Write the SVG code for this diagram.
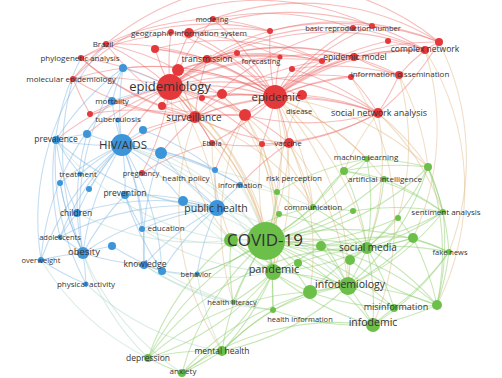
<svg xmlns="http://www.w3.org/2000/svg" width="502" height="378" viewBox="0 0 502 378">
<style>
.e path{fill:none;stroke-width:1.1}
.r path{stroke:#ee6a6a;stroke-opacity:.45}
.g path{stroke:#8ccd6a;stroke-opacity:.48}
.b path{stroke:#7db4e0;stroke-opacity:.45}
.o path{stroke:#d6a35e;stroke-opacity:.35}
.t path{stroke:#9ccab8;stroke-opacity:.35}
.R{fill:#e5383b}
.G{fill:#6cc04a}
.B{fill:#3b95d8}
text{font-family:"Open Sans","Liberation Sans",sans-serif;fill:#333;text-anchor:middle}
</style>
<rect width="502" height="378" fill="#fff"/>
<g id="connectors" class="e">
<g class="r">
<path d="M170 87A260 260 0 0 1 213 19"/><path d="M170 87A260 260 0 0 1 171 32"/><path d="M170 87A260 260 0 0 1 189 33"/><path d="M170 87A260 260 0 0 0 106 44"/><path d="M170 87A260 260 0 0 0 81 58"/><path d="M170 87A260 260 0 0 1 207 59"/><path d="M170 87A260 260 0 0 0 73 79"/><path d="M170 87A260 260 0 0 1 178 70"/><path d="M170 87A260 260 0 0 1 222 94"/><path d="M170 87A260 260 0 0 1 202 98"/><path d="M170 87A260 260 0 0 1 162 106"/><path d="M170 87A260 260 0 0 0 90 114"/><path d="M170 87A260 260 0 0 1 195 117"/><path d="M170 87A260 260 0 0 1 245 115"/><path d="M170 87A260 260 0 0 1 275 97"/><path d="M170 87A260 260 0 0 1 212 143"/><path d="M170 87A260 260 0 0 1 289 143"/><path d="M170 87A260 260 0 0 1 155 49"/><path d="M170 87A260 260 0 0 1 353 28"/><path d="M170 87A260 260 0 0 1 322 61"/><path d="M170 87A260 260 0 0 1 280 57"/><path d="M170 87A260 260 0 0 1 237 53"/><path d="M170 87A260 260 0 0 1 425 50"/><path d="M170 87A260 260 0 0 1 378 113"/><path d="M170 87A260 260 0 0 0 122 145"/><path d="M170 87A260 260 0 0 1 142 173"/><path d="M170 87A260 260 0 0 1 270 31"/><path d="M170 87A260 260 0 0 1 302 95"/><path d="M170 87A260 260 0 0 1 262 144"/>
<path d="M275 97A260 260 0 0 0 213 19"/><path d="M275 97A260 260 0 0 0 189 33"/><path d="M275 97A260 260 0 0 0 207 59"/><path d="M275 97A260 260 0 0 1 270 31"/><path d="M275 97A260 260 0 0 1 280 57"/><path d="M275 97A260 260 0 0 1 292 69"/><path d="M275 97A260 260 0 0 1 322 61"/><path d="M275 97A260 260 0 0 1 354 57"/><path d="M275 97A260 260 0 0 1 351 77"/><path d="M275 97A260 260 0 0 1 399 75"/><path d="M275 97A260 260 0 0 1 425 50"/><path d="M275 97A260 260 0 0 1 439 42"/><path d="M275 97A260 260 0 0 1 378 113"/><path d="M275 97A260 260 0 0 1 302 95"/><path d="M275 97A260 260 0 0 1 245 115"/><path d="M275 97A260 260 0 0 0 195 117"/><path d="M275 97A260 260 0 0 0 222 94"/><path d="M275 97A260 260 0 0 1 289 143"/><path d="M275 97A260 260 0 0 1 262 144"/><path d="M275 97A260 260 0 0 1 212 143"/><path d="M275 97A260 260 0 0 1 372 26"/><path d="M275 97A260 260 0 0 1 353 28"/><path d="M275 97A260 260 0 0 1 388 41"/><path d="M275 97A260 260 0 0 0 178 70"/><path d="M275 97A260 260 0 0 0 162 106"/><path d="M275 97A260 260 0 0 0 106 44"/><path d="M275 97A260 260 0 0 0 73 79"/><path d="M275 97A260 260 0 0 0 155 49"/><path d="M275 97A260 260 0 0 0 237 53"/><path d="M275 97A260 260 0 0 0 202 98"/><path d="M275 97A260 260 0 0 0 171 32"/>
<path d="M195 117A260 260 0 0 1 178 70"/><path d="M195 117A260 260 0 0 1 207 59"/><path d="M195 117A260 260 0 0 1 245 115"/><path d="M195 117A260 260 0 0 1 212 143"/><path d="M195 117A260 260 0 0 0 289 143"/><path d="M195 117A260 260 0 0 1 106 44"/><path d="M195 117A260 260 0 0 1 73 79"/><path d="M195 117A260 260 0 0 1 81 58"/><path d="M195 117A260 260 0 0 0 122 145"/><path d="M195 117A260 260 0 0 1 353 28"/><path d="M195 117A260 260 0 0 1 322 61"/><path d="M195 117A260 260 0 0 1 378 113"/><path d="M195 117A260 260 0 0 0 90 114"/>
<path d="M354 57A260 260 0 0 1 425 50"/><path d="M354 57A260 260 0 0 0 399 75"/><path d="M399 75A260 260 0 0 1 425 50"/><path d="M425 50A260 260 0 0 1 439 42"/><path d="M372 26A260 260 0 0 1 439 42"/><path d="M353 28A260 260 0 0 1 425 50"/><path d="M351 77A260 260 0 0 1 378 113"/><path d="M399 75A260 260 0 0 1 378 113"/><path d="M270 31A260 260 0 0 1 372 26"/><path d="M189 33A260 260 0 0 1 270 31"/><path d="M213 19A260 260 0 0 1 353 28"/><path d="M322 61A260 260 0 0 1 354 57"/><path d="M439 42A260 260 0 0 1 378 113"/><path d="M292 69A260 260 0 0 1 378 113"/><path d="M106 44A260 260 0 0 1 213 19"/><path d="M81 58A260 260 0 0 1 189 33"/><path d="M73 79A260 260 0 0 1 106 44"/><path d="M106 44A260 260 0 0 1 439 42"/><path d="M73 79A260 260 0 0 1 372 26"/><path d="M155 49A260 260 0 0 1 322 61"/><path d="M245 115A260 260 0 0 1 425 50"/><path d="M207 59A260 260 0 0 1 399 75"/><path d="M178 70A260 260 0 0 1 280 57"/><path d="M222 94A260 260 0 0 1 351 77"/>
<path d="M207 59A260 260 0 0 1 280 57"/><path d="M207 59A260 260 0 0 1 322 61"/><path d="M189 33A260 260 0 0 1 322 61"/><path d="M213 19A260 260 0 0 1 270 31"/><path d="M155 49A260 260 0 0 1 207 59"/><path d="M106 44A260 260 0 0 1 178 70"/><path d="M81 58A260 260 0 0 0 162 106"/><path d="M73 79A260 260 0 0 0 90 114"/><path d="M162 106A260 260 0 0 0 245 115"/><path d="M178 70A260 260 0 0 1 245 115"/><path d="M280 57A260 260 0 0 1 354 57"/><path d="M292 69A260 260 0 0 1 399 75"/><path d="M302 95A260 260 0 0 1 378 113"/><path d="M245 115A260 260 0 0 0 378 113"/><path d="M289 143A260 260 0 0 0 378 113"/><path d="M388 41A260 260 0 0 1 425 50"/><path d="M270 31A260 260 0 0 1 439 42"/><path d="M189 33A260 260 0 0 1 425 50"/><path d="M213 19A260 260 0 0 1 439 42"/><path d="M81 58A260 260 0 0 1 270 31"/><path d="M178 70A260 260 0 0 1 322 61"/><path d="M207 59A260 260 0 0 1 354 57"/><path d="M171 32A260 260 0 0 1 280 57"/><path d="M212 143A260 260 0 0 0 289 143"/><path d="M262 144A260 260 0 0 0 378 113"/>
<path d="M112 101A260 260 0 0 0 195 117"/><path d="M123 68A260 260 0 0 1 275 97"/><path d="M87 134A260 260 0 0 1 170 87"/><path d="M56 140A260 260 0 0 1 170 87"/><path d="M143 130A260 260 0 0 1 195 117"/><path d="M118 120A260 260 0 0 1 170 87"/><path d="M161 153A260 260 0 0 1 195 117"/><path d="M142 173A260 260 0 0 1 212 143"/><path d="M215 170A260 260 0 0 1 245 115"/><path d="M240 185A260 260 0 0 1 289 143"/>
</g>
<g class="o">
<path d="M275 97A260 260 0 0 1 266 241"/><path d="M170 87A260 260 0 0 1 266 241"/><path d="M195 117A260 260 0 0 1 266 241"/><path d="M289 143A260 260 0 0 1 266 241"/><path d="M262 144A260 260 0 0 1 273 272"/><path d="M212 143A260 260 0 0 1 266 241"/><path d="M245 115A260 260 0 0 1 277 192"/><path d="M275 97A260 260 0 0 1 313 207"/><path d="M170 87A260 260 0 0 1 217 208"/><path d="M289 143A260 260 0 0 1 348 286"/><path d="M275 97A260 260 0 0 1 367 248"/><path d="M275 97A260 260 0 0 1 348 286"/><path d="M378 113A260 260 0 0 1 367 248"/><path d="M378 113A260 260 0 0 1 443 212"/><path d="M399 75A260 260 0 0 1 398 218"/><path d="M425 50A260 260 0 0 1 437 305"/><path d="M439 42A260 260 0 0 1 449 252"/><path d="M245 115A260 260 0 0 1 273 272"/><path d="M302 95A260 260 0 0 1 344 171"/><path d="M222 94A260 260 0 0 1 279 214"/><path d="M195 117A260 260 0 0 1 273 272"/><path d="M351 77A260 260 0 0 1 373 325"/><path d="M399 75A260 260 0 0 1 428 167"/><path d="M289 143A260 260 0 0 1 310 292"/>
<path d="M275 97A260 260 0 0 1 428 167"/><path d="M275 97A260 260 0 0 1 384 179"/><path d="M275 97A260 260 0 0 1 367 159"/><path d="M378 113A260 260 0 0 1 428 167"/><path d="M378 113A260 260 0 0 0 344 171"/><path d="M245 115A260 260 0 0 1 313 207"/><path d="M289 143A260 260 0 0 1 313 207"/><path d="M262 144A260 260 0 0 0 266 241"/><path d="M212 143A260 260 0 0 0 231 240"/><path d="M170 87A260 260 0 0 0 231 240"/><path d="M195 117A260 260 0 0 1 313 207"/><path d="M302 95A260 260 0 0 0 277 192"/><path d="M170 87A260 260 0 0 1 273 272"/><path d="M275 97A260 260 0 0 1 273 272"/><path d="M425 50A260 260 0 0 1 413 238"/><path d="M195 117A260 260 0 0 0 222 351"/><path d="M245 115A260 260 0 0 0 233 302"/>
</g>
<g class="b">
<path d="M122 145A260 260 0 0 1 56 140"/><path d="M122 145A260 260 0 0 1 87 134"/><path d="M122 145A260 260 0 0 1 143 130"/><path d="M122 145A260 260 0 0 1 161 153"/><path d="M122 145A260 260 0 0 1 112 101"/><path d="M122 145A260 260 0 0 1 123 68"/><path d="M122 145A260 260 0 0 1 118 120"/><path d="M122 145A260 260 0 0 0 80 174"/><path d="M122 145A260 260 0 0 0 60 183"/><path d="M122 145A260 260 0 0 0 89 189"/><path d="M122 145A260 260 0 0 1 125 195"/><path d="M122 145A260 260 0 0 0 77 213"/><path d="M122 145A260 260 0 0 1 142 229"/><path d="M122 145A260 260 0 0 1 183 201"/><path d="M122 145A260 260 0 0 1 217 208"/><path d="M122 145A260 260 0 0 1 144 265"/><path d="M122 145A260 260 0 0 1 162 271"/><path d="M122 145A260 260 0 0 0 83 253"/><path d="M122 145A260 260 0 0 0 60 237"/><path d="M122 145A260 260 0 0 1 215 170"/><path d="M122 145A260 260 0 0 1 240 185"/><path d="M122 145A260 260 0 0 0 41 260"/><path d="M112 101A260 260 0 0 1 170 87"/><path d="M123 68A260 260 0 0 1 170 87"/>
<path d="M217 208A260 260 0 0 1 183 201"/><path d="M217 208A260 260 0 0 0 142 229"/><path d="M217 208A260 260 0 0 0 144 265"/><path d="M217 208A260 260 0 0 0 162 271"/><path d="M217 208A260 260 0 0 0 197 274"/><path d="M217 208A260 260 0 0 1 240 185"/><path d="M217 208A260 260 0 0 1 215 170"/><path d="M217 208A260 260 0 0 0 125 195"/><path d="M217 208A260 260 0 0 1 161 153"/><path d="M217 208A260 260 0 0 0 83 253"/><path d="M217 208A260 260 0 0 0 77 213"/><path d="M217 208A260 260 0 0 1 56 140"/><path d="M217 208A260 260 0 0 0 60 237"/>
<path d="M83 253A260 260 0 0 0 41 260"/><path d="M83 253A260 260 0 0 1 86 284"/><path d="M83 253A260 260 0 0 1 77 213"/><path d="M83 253A260 260 0 0 0 60 237"/><path d="M83 253A260 260 0 0 1 112 246"/><path d="M83 253A260 260 0 0 0 144 265"/><path d="M83 253A260 260 0 0 1 125 195"/><path d="M83 253A260 260 0 0 1 60 183"/><path d="M56 140A260 260 0 0 0 77 213"/><path d="M56 140A260 260 0 0 0 80 174"/><path d="M77 213A260 260 0 0 0 60 237"/><path d="M112 101A260 260 0 0 1 123 68"/><path d="M123 68A260 260 0 0 0 56 140"/><path d="M87 134A260 260 0 0 0 56 140"/><path d="M144 265A260 260 0 0 0 162 271"/><path d="M162 271A260 260 0 0 0 197 274"/><path d="M41 260A260 260 0 0 0 86 284"/><path d="M123 68A260 260 0 0 0 83 253"/><path d="M112 101A260 260 0 0 0 41 260"/><path d="M56 140A260 260 0 0 0 86 284"/><path d="M125 195A260 260 0 0 0 142 229"/><path d="M143 130A260 260 0 0 1 215 170"/><path d="M161 153A260 260 0 0 1 240 185"/>
<path d="M106 44A260 260 0 0 0 41 260"/><path d="M81 58A260 260 0 0 0 60 237"/><path d="M73 79A260 260 0 0 0 83 253"/><path d="M87 134A260 260 0 0 0 77 213"/><path d="M161 153A260 260 0 0 0 144 265"/><path d="M125 195A260 260 0 0 0 162 271"/><path d="M60 183A260 260 0 0 0 83 253"/><path d="M112 246A260 260 0 0 0 162 271"/>
</g>
<g class="t">
<path d="M122 145A260 260 0 0 1 266 241"/><path d="M217 208A260 260 0 0 1 266 241"/><path d="M240 185A260 260 0 0 1 266 241"/><path d="M197 274A260 260 0 0 0 266 241"/><path d="M162 271A260 260 0 0 0 273 272"/><path d="M83 253A260 260 0 0 0 148 358"/><path d="M142 229A260 260 0 0 0 266 241"/><path d="M122 145A260 260 0 0 1 273 272"/><path d="M217 208A260 260 0 0 1 348 286"/><path d="M183 201A260 260 0 0 1 231 240"/><path d="M144 265A260 260 0 0 0 233 302"/><path d="M56 140A260 260 0 0 0 231 240"/>
<path d="M86 284A260 260 0 0 0 222 351"/><path d="M83 253A260 260 0 0 0 182 373"/><path d="M41 260A260 260 0 0 0 148 358"/><path d="M162 271A260 260 0 0 0 233 302"/><path d="M197 274A260 260 0 0 0 222 351"/><path d="M142 229A260 260 0 0 0 273 272"/><path d="M125 195A260 260 0 0 1 266 241"/><path d="M77 213A260 260 0 0 0 231 240"/><path d="M161 153A260 260 0 0 1 266 241"/><path d="M183 201A260 260 0 0 0 273 272"/><path d="M240 185A260 260 0 0 1 313 207"/><path d="M215 170A260 260 0 0 1 277 192"/><path d="M144 265A260 260 0 0 0 273 310"/>
</g>
<g class="g">
<path d="M266 241A260 260 0 0 0 231 240"/><path d="M266 241A260 260 0 0 1 273 272"/><path d="M266 241A260 260 0 0 1 310 292"/><path d="M266 241A260 260 0 0 1 348 286"/><path d="M266 241A260 260 0 0 1 321 246"/><path d="M266 241A260 260 0 0 1 367 248"/><path d="M266 241A260 260 0 0 1 350 260"/><path d="M266 241A260 260 0 0 1 298 263"/><path d="M266 241A260 260 0 0 0 313 207"/><path d="M266 241A260 260 0 0 0 279 214"/><path d="M266 241A260 260 0 0 0 277 192"/><path d="M266 241A260 260 0 0 0 353 211"/><path d="M266 241A260 260 0 0 0 344 171"/><path d="M266 241A260 260 0 0 0 367 159"/><path d="M266 241A260 260 0 0 0 384 179"/><path d="M266 241A260 260 0 0 0 398 218"/><path d="M266 241A260 260 0 0 0 413 238"/><path d="M266 241A260 260 0 0 0 443 212"/><path d="M266 241A260 260 0 0 1 449 252"/><path d="M266 241A260 260 0 0 1 437 305"/><path d="M266 241A260 260 0 0 1 394 308"/><path d="M266 241A260 260 0 0 1 373 325"/><path d="M266 241A260 260 0 0 1 273 310"/><path d="M266 241A260 260 0 0 0 233 302"/><path d="M266 241A260 260 0 0 0 222 351"/><path d="M266 241A260 260 0 0 0 148 358"/><path d="M266 241A260 260 0 0 0 182 373"/><path d="M266 241A260 260 0 0 0 428 167"/><path d="M266 241A260 260 0 0 1 197 274"/>
<path d="M367 248A260 260 0 0 0 413 238"/><path d="M367 248A260 260 0 0 1 449 252"/><path d="M367 248A260 260 0 0 0 443 212"/><path d="M367 248A260 260 0 0 0 398 218"/><path d="M367 248A260 260 0 0 1 348 286"/><path d="M367 248A260 260 0 0 1 437 305"/><path d="M367 248A260 260 0 0 1 394 308"/><path d="M367 248A260 260 0 0 1 373 325"/><path d="M367 248A260 260 0 0 0 344 171"/><path d="M367 248A260 260 0 0 0 367 159"/><path d="M367 248A260 260 0 0 0 384 179"/><path d="M367 248A260 260 0 0 1 350 260"/><path d="M367 248A260 260 0 0 0 321 246"/><path d="M367 248A260 260 0 0 1 273 272"/><path d="M367 248A260 260 0 0 0 428 167"/>
<path d="M348 286A260 260 0 0 1 373 325"/><path d="M348 286A260 260 0 0 1 394 308"/><path d="M348 286A260 260 0 0 1 437 305"/><path d="M348 286A260 260 0 0 0 310 292"/><path d="M348 286A260 260 0 0 0 273 272"/><path d="M348 286A260 260 0 0 0 273 310"/><path d="M348 286A260 260 0 0 0 413 238"/><path d="M348 286A260 260 0 0 0 350 260"/><path d="M348 286A260 260 0 0 0 443 212"/><path d="M348 286A260 260 0 0 1 222 351"/>
<path d="M273 272A260 260 0 0 1 222 351"/><path d="M273 272A260 260 0 0 1 148 358"/><path d="M273 272A260 260 0 0 1 182 373"/><path d="M273 272A260 260 0 0 1 233 302"/><path d="M273 272A260 260 0 0 0 310 292"/><path d="M273 272A260 260 0 0 0 273 310"/><path d="M273 272A260 260 0 0 0 373 325"/><path d="M273 272A260 260 0 0 0 321 246"/>
<path d="M222 351A260 260 0 0 0 148 358"/><path d="M148 358A260 260 0 0 0 182 373"/><path d="M182 373A260 260 0 0 0 222 351"/><path d="M437 305A260 260 0 0 0 413 238"/><path d="M437 305A260 260 0 0 0 449 252"/><path d="M344 171A260 260 0 0 1 428 167"/><path d="M367 159A260 260 0 0 1 428 167"/><path d="M384 179A260 260 0 0 1 443 212"/><path d="M373 325A260 260 0 0 1 394 308"/><path d="M310 292A260 260 0 0 0 222 351"/><path d="M313 207A260 260 0 0 1 367 248"/><path d="M428 167A260 260 0 0 1 449 252"/><path d="M428 167A260 260 0 0 1 437 305"/><path d="M344 171A260 260 0 0 1 443 212"/><path d="M310 292A260 260 0 0 0 148 358"/><path d="M373 325A260 260 0 0 0 182 373"/><path d="M449 252A260 260 0 0 1 373 325"/><path d="M277 192A260 260 0 0 1 348 286"/>
<path d="M231 240A260 260 0 0 0 273 272"/><path d="M231 240A260 260 0 0 1 313 207"/><path d="M231 240A260 260 0 0 0 348 286"/><path d="M231 240A260 260 0 0 0 233 302"/><path d="M321 246A260 260 0 0 1 348 286"/><path d="M321 246A260 260 0 0 1 413 238"/><path d="M350 260A260 260 0 0 0 437 305"/><path d="M298 263A260 260 0 0 0 348 286"/><path d="M298 263A260 260 0 0 1 367 248"/><path d="M313 207A260 260 0 0 1 344 171"/><path d="M313 207A260 260 0 0 1 353 211"/><path d="M279 214A260 260 0 0 1 367 248"/><path d="M277 192A260 260 0 0 1 367 159"/><path d="M353 211A260 260 0 0 1 443 212"/><path d="M398 218A260 260 0 0 1 413 238"/><path d="M413 238A260 260 0 0 1 449 252"/><path d="M344 171A260 260 0 0 1 384 179"/><path d="M367 159A260 260 0 0 0 344 171"/><path d="M428 167A260 260 0 0 1 443 212"/><path d="M273 310A260 260 0 0 0 373 325"/><path d="M233 302A260 260 0 0 0 273 310"/><path d="M222 351A260 260 0 0 1 273 310"/><path d="M148 358A260 260 0 0 1 231 240"/><path d="M182 373A260 260 0 0 1 348 286"/><path d="M148 358A260 260 0 0 1 367 248"/><path d="M437 305A260 260 0 0 1 373 325"/><path d="M394 308A260 260 0 0 0 449 252"/><path d="M310 292A260 260 0 0 0 437 305"/><path d="M310 292A260 260 0 0 1 367 248"/><path d="M428 167A260 260 0 0 1 348 286"/><path d="M443 212A260 260 0 0 1 437 305"/>
</g>
</g>
<g id="unlabeled-nodes">
<circle class="R" cx="155" cy="49" r="4"/><circle class="R" cx="270" cy="31" r="3"/><circle class="R" cx="388" cy="41" r="3"/><circle class="R" cx="237" cy="53" r="3"/><circle class="R" cx="178" cy="70" r="6"/><circle class="R" cx="222" cy="94" r="5"/><circle class="R" cx="202" cy="98" r="3"/><circle class="R" cx="162" cy="106" r="4"/><circle class="R" cx="90" cy="114" r="3"/><circle class="R" cx="245" cy="115" r="6"/><circle class="R" cx="302" cy="95" r="5"/><circle class="R" cx="292" cy="69" r="3"/><circle class="R" cx="322" cy="61" r="3"/><circle class="R" cx="171" cy="32" r="3"/><circle class="R" cx="372" cy="26" r="3"/><circle class="R" cx="351" cy="77" r="3"/><circle class="R" cx="439" cy="42" r="4"/><circle class="R" cx="262" cy="144" r="3"/>
<circle class="B" cx="87" cy="134" r="4"/><circle class="B" cx="143" cy="130" r="4"/><circle class="B" cx="161" cy="153" r="6"/><circle class="B" cx="123" cy="68" r="4"/><circle class="B" cx="112" cy="246" r="4"/><circle class="B" cx="60" cy="183" r="3"/><circle class="B" cx="89" cy="189" r="3"/><circle class="B" cx="183" cy="201" r="5"/><circle class="B" cx="162" cy="271" r="4"/>
<circle class="G" cx="344" cy="171" r="4"/><circle class="G" cx="428" cy="167" r="4"/><circle class="G" cx="279" cy="214" r="3"/><circle class="G" cx="353" cy="211" r="3"/><circle class="G" cx="398" cy="218" r="3"/><circle class="G" cx="413" cy="238" r="5"/><circle class="G" cx="321" cy="246" r="5"/><circle class="G" cx="350" cy="260" r="5"/><circle class="G" cx="298" cy="263" r="4"/><circle class="G" cx="277" cy="192" r="3"/><circle class="G" cx="231" cy="240" r="7"/><circle class="G" cx="310" cy="292" r="7"/><circle class="G" cx="437" cy="305" r="5"/>
</g>
<g id="n-modeling"><circle class="R" cx="213" cy="19" r="3"/><text x="212" y="21.6" font-size="7.5">modeling</text></g>
<g id="n-gis"><circle class="R" cx="189" cy="33" r="5"/><text x="189" y="35.8" font-size="8">geographic information system</text></g>
<g id="n-brazil"><circle class="R" cx="106" cy="44" r="3"/><text x="103" y="46.8" font-size="8">Brazil</text></g>
<g id="n-phylogenetic"><circle class="R" cx="81" cy="58" r="3"/><text x="80" y="60.8" font-size="8">phylogenetic analysis</text></g>
<g id="n-transmission"><circle class="R" cx="207" cy="59" r="4"/><text x="207" y="62" font-size="8.5">transmission</text></g>
<g id="n-forecasting"><circle class="R" cx="280" cy="57" r="2.5"/><text x="261" y="63.6" font-size="7.5">forecasting</text></g>
<g id="n-molecular"><circle class="R" cx="73" cy="79" r="3"/><text x="71" y="81.8" font-size="8">molecular epidemiology</text></g>
<g id="n-epidemiology"><circle class="R" cx="170" cy="87" r="13"/><text x="170" y="90.5" font-size="13">epidemiology</text></g>
<g id="n-mortality"><circle class="B" cx="112" cy="101" r="4"/><text x="112" y="103.8" font-size="8">mortality</text></g>
<g id="n-surveillance"><circle class="R" cx="195" cy="117" r="6"/><text x="194" y="120.5" font-size="10">surveillance</text></g>
<g id="n-tuberculosis"><circle class="B" cx="118" cy="120" r="2.5"/><text x="118" y="121.8" font-size="8">tuberculosis</text></g>
<g id="n-basic"><circle class="R" cx="353" cy="28" r="3"/><text x="353" y="30.6" font-size="7.5">basic reproduction number</text></g>
<g id="n-complex"><circle class="R" cx="425" cy="50" r="4"/><text x="425" y="52" font-size="8.5">complex network</text></g>
<g id="n-epidemic-model"><circle class="R" cx="354" cy="57" r="4"/><text x="355" y="60" font-size="8.5">epidemic model</text></g>
<g id="n-info-dissemination"><circle class="R" cx="399" cy="75" r="4"/><text x="400" y="76.8" font-size="8">information dissemination</text></g>
<g id="n-epidemic"><circle class="R" cx="275" cy="97" r="12"/><text x="276" y="101" font-size="11.5">epidemic</text></g>
<g id="n-disease"><text x="299" y="113.6" font-size="7.5">disease</text></g>
<g id="n-sna"><circle class="R" cx="378" cy="113" r="5"/><text x="379" y="116.2" font-size="9">social network analysis</text></g>
<g id="n-ebola"><circle class="R" cx="212" cy="143" r="3"/><text x="212" y="145.6" font-size="7.5">Ebola</text></g>
<g id="n-vaccine"><circle class="R" cx="289" cy="143" r="5"/><text x="288" y="145.8" font-size="8">vaccine</text></g>
<g id="n-pregnancy"><circle class="R" cx="142" cy="173" r="3"/><text x="141" y="175.6" font-size="7.5">pregnancy</text></g>
<g id="n-prevalence"><circle class="B" cx="56" cy="140" r="4"/><text x="56" y="142" font-size="8.5">prevalence</text></g>
<g id="n-hiv"><circle class="B" cx="122" cy="145" r="11"/><text x="123" y="149" font-size="11.5">HIV/AIDS</text></g>
<g id="n-treatment"><circle class="B" cx="80" cy="174" r="2.5"/><text x="78" y="176.8" font-size="8">treatment</text></g>
<g id="n-health-policy"><circle class="B" cx="215" cy="170" r="3"/><text x="186" y="180.8" font-size="8">health policy</text></g>
<g id="n-prevention"><circle class="B" cx="125" cy="195" r="4"/><text x="125" y="196" font-size="8.5">prevention</text></g>
<g id="n-public-health"><circle class="B" cx="217" cy="208" r="8"/><text x="216" y="211.7" font-size="10.5">public health</text></g>
<g id="n-information"><circle class="B" cx="240" cy="185" r="3"/><text x="240" y="187.8" font-size="8">information</text></g>
<g id="n-children"><circle class="B" cx="77" cy="213" r="4"/><text x="76" y="216" font-size="8.5">children</text></g>
<g id="n-education"><circle class="B" cx="142" cy="229" r="3"/><text x="166" y="230.8" font-size="8">education</text></g>
<g id="n-adolescents"><circle class="B" cx="60" cy="237" r="2.5"/><text x="60" y="239.6" font-size="7.5">adolescents</text></g>
<g id="n-obesity"><circle class="B" cx="83" cy="253" r="6"/><text x="84" y="255.3" font-size="9.5">obesity</text></g>
<g id="n-overweight"><circle class="B" cx="41" cy="260" r="3"/><text x="41" y="262.6" font-size="7.5">overweight</text></g>
<g id="n-knowledge"><circle class="B" cx="144" cy="265" r="4"/><text x="145" y="267" font-size="8.5">knowledge</text></g>
<g id="n-behavior"><circle class="B" cx="197" cy="274" r="2.5"/><text x="196" y="276.6" font-size="7.5">behavior</text></g>
<g id="n-physical"><circle class="B" cx="86" cy="284" r="2.5"/><text x="86" y="286.8" font-size="8">physical activity</text></g>
<g id="n-ml"><circle class="G" cx="367" cy="159" r="3"/><text x="366" y="159.8" font-size="8">machine learning</text></g>
<g id="n-risk"><text x="294" y="180.8" font-size="8">risk perception</text></g>
<g id="n-ai"><circle class="G" cx="384" cy="179" r="3"/><text x="385" y="181.8" font-size="8">artificial intelligence</text></g>
<g id="n-communication"><circle class="G" cx="313" cy="207" r="3"/><text x="313" y="209.8" font-size="8">communication</text></g>
<g id="n-sentiment"><circle class="G" cx="443" cy="212" r="3"/><text x="446" y="214.8" font-size="8">sentiment analysis</text></g>
<g id="n-covid"><circle class="G" cx="266" cy="241" r="19"/><text x="265" y="246" font-size="17">COVID-19</text></g>
<g id="n-social-media"><circle class="G" cx="367" cy="248" r="6"/><text x="368" y="250.5" font-size="10">social media</text></g>
<g id="n-fake-news"><circle class="G" cx="449" cy="252" r="3"/><text x="450" y="254.6" font-size="7.5">fake news</text></g>
<g id="n-pandemic"><circle class="G" cx="273" cy="272" r="8"/><text x="274" y="272.8" font-size="11">pandemic</text></g>
<g id="n-infodemiology"><circle class="G" cx="348" cy="286" r="9"/><text x="350" y="287.7" font-size="10.5">infodemiology</text></g>
<g id="n-health-literacy"><circle class="G" cx="233" cy="302" r="2.5"/><text x="232" y="304.6" font-size="7.5">health literacy</text></g>
<g id="n-misinformation"><circle class="G" cx="394" cy="308" r="4"/><text x="396" y="310.2" font-size="9">misinformation</text></g>
<g id="n-health-information"><circle class="G" cx="273" cy="310" r="3"/><text x="300" y="321.6" font-size="7.5">health information</text></g>
<g id="n-infodemic"><circle class="G" cx="373" cy="325" r="7"/><text x="373" y="325.7" font-size="10.5">infodemic</text></g>
<g id="n-mental-health"><circle class="G" cx="222" cy="351" r="5"/><text x="222" y="354" font-size="8.5">mental health</text></g>
<g id="n-depression"><circle class="G" cx="148" cy="358" r="4"/><text x="148" y="361" font-size="8.5">depression</text></g>
<g id="n-anxiety"><circle class="G" cx="182" cy="373" r="4"/><text x="183" y="373.8" font-size="8">anxiety</text></g>
</svg>
